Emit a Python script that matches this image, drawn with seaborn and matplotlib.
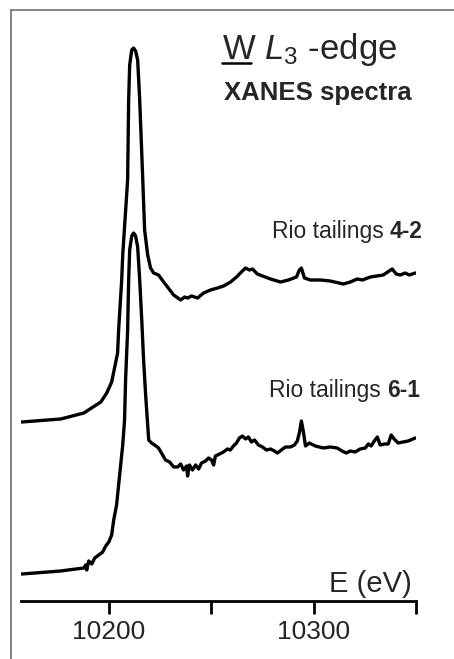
import numpy as np
import pandas as pd
import seaborn as sns
import matplotlib.pyplot as plt
from matplotlib.lines import Line2D

# W L3-edge XANES spectra (energy in eV, normalised absorbance with offset)
e_42 = [10157.4, 10176.4, 10187.7, 10196.0, 10198.9, 10201.3, 10204.2, 10204.7, 10206.2, 10206.7,
        10209.1, 10209.6, 10210.1, 10211.1, 10212.0, 10213.0, 10214.0, 10215.0, 10216.5, 10217.4,
        10218.9, 10220.3, 10221.8, 10224.2, 10226.7, 10228.6, 10231.6, 10235.0, 10236.9, 10238.4,
        10240.3, 10243.3, 10246.2, 10249.6, 10253.0, 10256.0, 10259.4, 10262.3, 10264.2, 10266.7,
        10268.6, 10270.1, 10272.5, 10275.0, 10278.9, 10283.8, 10287.7, 10291.6, 10293.0, 10294.0,
        10295.5, 10298.4, 10303.3, 10308.1, 10314.5, 10317.9, 10321.3, 10323.8, 10327.7, 10334.0,
        10336.9, 10338.4, 10340.3, 10342.3, 10344.7, 10346.7, 10349.6]
mu_42 = [1.79, 1.82, 1.88, 1.99, 2.08, 2.19, 2.48, 2.71, 3.21, 3.46,
         4.21, 5.01, 5.36, 5.51, 5.53, 5.50, 5.41, 5.01, 4.21, 3.71,
         3.46, 3.33, 3.28, 3.26, 3.19, 3.14, 3.06, 3.01, 3.04, 3.03,
         3.05, 3.03, 3.08, 3.11, 3.13, 3.15, 3.19, 3.24, 3.28, 3.33,
         3.31, 3.32, 3.27, 3.25, 3.22, 3.19, 3.21, 3.24, 3.31, 3.33,
         3.23, 3.21, 3.21, 3.20, 3.17, 3.19, 3.22, 3.21, 3.24, 3.26,
         3.30, 3.32, 3.27, 3.26, 3.28, 3.26, 3.28]

e_61 = [10157.4, 10176.4, 10183.8, 10187.7, 10188.6, 10189.1, 10190.1, 10191.6, 10193.0, 10195.0,
        10196.9, 10198.4, 10199.9, 10201.3, 10202.3, 10203.7, 10204.7, 10205.7, 10206.7, 10207.6,
        10208.1, 10209.1, 10209.6, 10210.1, 10211.1, 10212.0, 10213.0, 10214.0, 10215.0, 10216.0,
        10216.9, 10217.9, 10218.9, 10219.4, 10220.8, 10222.3, 10224.2, 10226.2, 10227.6, 10229.6,
        10231.6, 10233.5, 10235.0, 10236.4, 10237.9, 10238.4, 10239.3, 10240.8, 10242.3, 10243.8,
        10245.2, 10247.2, 10248.6, 10250.1, 10251.1, 10252.0, 10254.0, 10255.9, 10257.9, 10259.3,
        10260.8, 10262.3, 10263.7, 10265.2, 10266.7, 10268.1, 10269.6, 10271.1, 10273.0, 10275.0,
        10276.9, 10278.9, 10280.8, 10282.3, 10284.2, 10286.2, 10288.6, 10290.6, 10292.0, 10293.0,
        10294.0, 10295.0, 10296.0, 10297.9, 10300.8, 10304.7, 10308.1, 10311.5, 10313.9, 10315.9,
        10317.9, 10320.3, 10322.7, 10325.2, 10326.7, 10328.1, 10329.6, 10331.1, 10332.5, 10334.5,
        10336.4, 10337.9, 10339.3, 10341.3, 10343.7, 10346.2, 10349.6]
mu_61 = [0.27, 0.30, 0.32, 0.33, 0.36, 0.31, 0.40, 0.37, 0.43, 0.46,
         0.49, 0.55, 0.59, 0.66, 0.81, 0.96, 1.16, 1.36, 1.56, 1.81,
         2.21, 2.71, 3.21, 3.51, 3.65, 3.68, 3.65, 3.54, 3.21, 2.81,
         2.41, 2.06, 1.76, 1.61, 1.58, 1.56, 1.53, 1.46, 1.41, 1.39,
         1.34, 1.34, 1.37, 1.31, 1.35, 1.25, 1.36, 1.31, 1.36, 1.32,
         1.38, 1.40, 1.43, 1.41, 1.36, 1.45, 1.47, 1.49, 1.52, 1.51,
         1.55, 1.58, 1.63, 1.65, 1.62, 1.64, 1.59, 1.61, 1.56, 1.54,
         1.51, 1.52, 1.50, 1.48, 1.51, 1.54, 1.54, 1.56, 1.60, 1.68,
         1.80, 1.69, 1.55, 1.58, 1.55, 1.53, 1.54, 1.53, 1.50, 1.48,
         1.50, 1.49, 1.52, 1.53, 1.57, 1.55, 1.60, 1.64, 1.56, 1.57,
         1.57, 1.66, 1.62, 1.58, 1.59, 1.60, 1.63]

xticks = [10200, 10250, 10300, 10350]
xticklabels = ["10200", "", "10300", ""]

sns.set_style("white")
plt.rcParams['font.family'] = ['Liberation Sans', 'DejaVu Sans']
plt.rcParams['mathtext.fontset'] = 'custom'
plt.rcParams['mathtext.rm'] = 'Liberation Sans'
plt.rcParams['mathtext.it'] = 'Liberation Sans:italic'

W, H = 454, 659
fig = plt.figure(figsize=(W / 100, H / 100), dpi=100)
ax = fig.add_axes([21 / W, 1 - 601 / H, (416 - 21) / W, (601 - 30) / H])

sns.lineplot(x=e_42, y=mu_42, color='black', linewidth=2.4, estimator=None, ax=ax)
sns.lineplot(x=e_61, y=mu_61, color='black', linewidth=2.4, estimator=None, ax=ax)

ax.set_xlim(10157, 10350)
ax.set_ylim(0, 5.71)
ax.set_xticks(xticks)
ax.set_xticklabels(xticklabels)
ax.set_yticks([])
for s in ['top', 'right', 'left']:
    ax.spines[s].set_visible(False)
ax.spines['bottom'].set_linewidth(2)
ax.spines['bottom'].set_color('black')
ax.tick_params(axis='x', direction='out', length=9, width=2, color='black',
               labelsize=19, pad=5, bottom=True)
ax.patch.set_alpha(0)

# outer frame (only left and top edges show)
fig.add_artist(Line2D([11 / W, 11 / W], [0, 1 - 10 / H], color='#707070', lw=1.2))
fig.add_artist(Line2D([11 / W, 1], [1 - 10 / H, 1 - 10 / H], color='#707070', lw=1.2))

# title
fig.text(222 / W, 1 - 59 / H, r"W $\mathit{L}_3$ -edge", fontsize=25, ha='left', va='baseline')
fig.add_artist(Line2D([222 / W, 251 / W], [1 - 63 / H, 1 - 63 / H], color='black', lw=1.8))
fig.text(412 / W, 1 - 100 / H, "XANES spectra", fontsize=18.5, fontweight='bold',
         ha='right', va='baseline')

# sample labels: bold number, plain prefix placed to its left
t1 = fig.text(423 / W, 1 - 238 / H, "4-2", fontsize=16.5, fontweight='bold', ha='right', va='baseline')
t2 = fig.text(420 / W, 1 - 397 / H, "6-1", fontsize=16.5, fontweight='bold', ha='right', va='baseline')
fig.canvas.draw()
r = fig.canvas.get_renderer()
for t, yb in [(t1, 238), (t2, 397)]:
    bb = t.get_window_extent(renderer=r)
    fig.text(bb.x0 / W, 1 - yb / H, "Rio tailings ", fontsize=16.5, ha='right', va='baseline')

fig.text(412 / W, 1 - 592 / H, "E (eV)", fontsize=21, ha='right', va='baseline')

fig.savefig("out.png", dpi=100)
